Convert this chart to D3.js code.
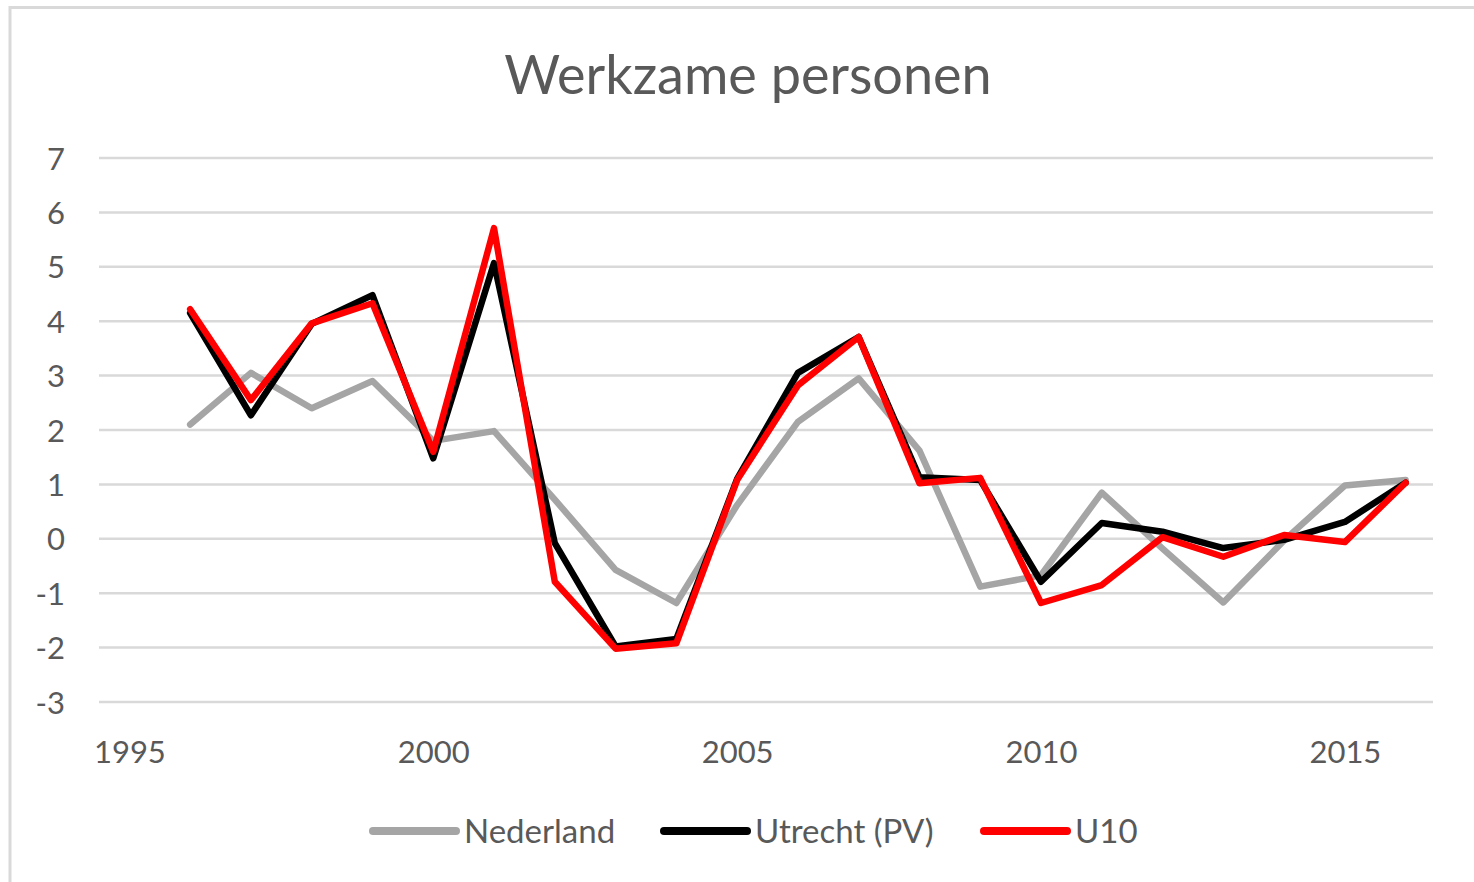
<!DOCTYPE html>
<html>
<head>
<meta charset="utf-8">
<script src="https://cdn.jsdelivr.net/npm/d3@7"></script>
<style>
  body { margin: 0; background: #fff; }
  text { font-family: Lato, "Open Sans", sans-serif; fill: #595959; }
</style>
</head>
<body>
<div class="chart"></div>
<script>
let FRAME_WIDTH = 1474;
let FRAME_HEIGHT = 882;

// years on the x axis
let years = [1996, 1997, 1998, 1999, 2000, 2001, 2002, 2003, 2004, 2005, 2006,
             2007, 2008, 2009, 2010, 2011, 2012, 2013, 2014, 2015, 2016];

// series values
let nederland = [2.1, 3.05, 2.4, 2.9, 1.8, 1.98, 0.72, -0.57, -1.18, 0.62, 2.15,
                 2.95, 1.62, -0.88, -0.67, 0.85, -0.18, -1.17, -0.03, 0.98, 1.08];
let utrecht = [4.15, 2.27, 3.95, 4.48, 1.48, 5.07, -0.08, -1.98, -1.84, 1.1, 3.05,
               3.71, 1.13, 1.08, -0.79, 0.29, 0.13, -0.17, -0.02, 0.31, 1.03];
let u10 = [4.22, 2.55, 3.96, 4.33, 1.6, 5.71, -0.79, -2.02, -1.92, 1.08, 2.82,
           3.71, 1.02, 1.12, -1.18, -0.85, 0.03, -0.33, 0.07, -0.06, 1.03];

let yTicks = [7, 6, 5, 4, 3, 2, 1, 0, -1, -2, -3];
let xTicks = [1995, 2000, 2005, 2010, 2015];

let seriesNames = ["Nederland", "Utrecht (PV)", "U10"];
let seriesColors = ["#a5a5a5", "#000000", "#ff0000"];

let svg = d3.select(".chart")
            .append("svg")
            .attr("width", FRAME_WIDTH)
            .attr("height", FRAME_HEIGHT);

// outer chart border
svg.append("rect")
   .attr("x", 10).attr("y", 7.5)
   .attr("width", 1500).attr("height", 900)
   .attr("fill", "none")
   .attr("stroke", "#d9d9d9")
   .attr("stroke-width", 3);

// scales
const X_SCALE = d3.scaleLinear()
                  .domain([1994.5, 2016.45])
                  .range([99, 1433]);

const Y_SCALE = d3.scaleLinear()
                  .domain([-3, 7])
                  .range([702, 158]);

// horizontal gridlines
svg.append("g")
   .selectAll("line")
   .data(yTicks)
   .enter()
   .append("line")
     .attr("x1", X_SCALE.range()[0])
     .attr("x2", X_SCALE.range()[1])
     .attr("y1", (d) => Y_SCALE(d))
     .attr("y2", (d) => Y_SCALE(d))
     .attr("stroke", "#d9d9d9")
     .attr("stroke-width", 2.5);

// y axis labels (plain hyphen for negatives, like Excel)
let yAxis = svg.append("g")
   .attr("transform", "translate(" + 99 + ",0)")
   .call(d3.axisLeft(Y_SCALE).tickValues(yTicks).tickSize(0).tickPadding(34).tickFormat((d) => String(d)));
yAxis.select(".domain").remove();
yAxis.selectAll("text")
     .attr("font-size", "31px")
     .attr("font-family", "Lato, sans-serif")
     .attr("fill", "#595959")
     .attr("dy", "0.36em");

// x axis labels
let xAxis = svg.append("g")
   .attr("transform", "translate(0," + 702 + ")")
   .call(d3.axisBottom(X_SCALE).tickValues(xTicks).tickSize(0).tickPadding(39).tickFormat((d) => String(d)));
xAxis.select(".domain").remove();
xAxis.selectAll("text")
     .attr("font-size", "31px")
     .attr("font-family", "Lato, sans-serif")
     .attr("fill", "#595959");

// lines
let allSeries = [nederland, utrecht, u10];
let line = d3.line()
             .x((d, i) => X_SCALE(years[i]))
             .y((d) => Y_SCALE(d));

svg.append("g")
   .selectAll("path")
   .data(allSeries)
   .enter()
   .append("path")
     .attr("d", (d) => line(d))
     .attr("fill", "none")
     .attr("stroke", (d, i) => seriesColors[i])
     .attr("stroke-width", 6.5)
     .attr("stroke-linejoin", "round")
     .attr("stroke-linecap", "round");

// title
svg.append("text")
   .attr("x", 748)
   .attr("y", 94)
   .attr("text-anchor", "middle")
   .attr("font-size", "54px")
   .attr("fill", "#595959")
   .text("Werkzame personen");

// legend
let legendX = [373, 664, 984];
let legend = svg.append("g")
   .selectAll("g")
   .data(seriesNames)
   .enter()
   .append("g")
     .attr("transform", (d, i) => "translate(" + legendX[i] + ",831)");

legend.append("line")
      .attr("x1", 0).attr("x2", 83)
      .attr("y1", 0).attr("y2", 0)
      .attr("stroke", (d, i) => seriesColors[i])
      .attr("stroke-width", 8)
      .attr("stroke-linecap", "round");

legend.append("text")
      .attr("x", 91)
      .attr("y", 12)
      .attr("font-size", "33px")
      .attr("fill", "#595959")
      .text((d) => d);
</script>
</body>
</html>
